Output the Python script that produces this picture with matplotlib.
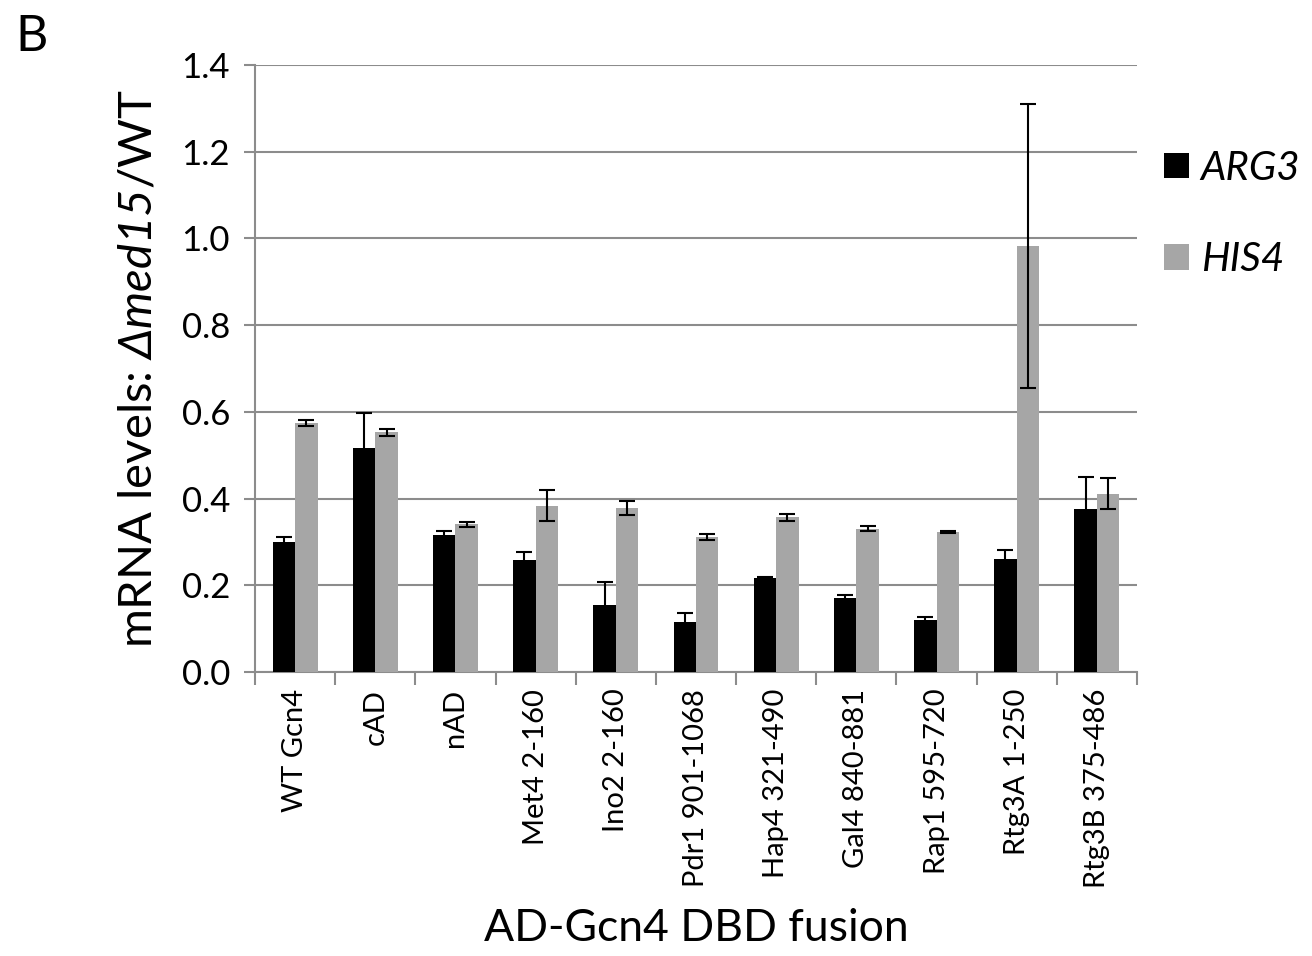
import numpy as np
import matplotlib
matplotlib.use("Agg")
import matplotlib.pyplot as plt

config = {
    "font.family": ['Lato', 'DejaVu Sans'],
    "mathtext.fontset": 'custom',
    "mathtext.rm": 'Lato:italic',
    "mathtext.it": 'Lato:italic',
    "axes.unicode_minus": False,
}
plt.rcParams.update(config)

categories = ["WT Gcn4", "cAD", "nAD", "Met4 2-160", "Ino2 2-160",
              "Pdr1 901-1068", "Hap4 321-490", "Gal4 840-881",
              "Rap1 595-720", "Rtg3A 1-250", "Rtg3B 375-486"]
arg3 = [0.300, 0.516, 0.315, 0.258, 0.155, 0.116, 0.218, 0.170, 0.121, 0.260, 0.377]
arg3_err = [0.011, 0.081, 0.011, 0.019, 0.052, 0.021, 0.002, 0.007, 0.007, 0.021, 0.072]
his4 = [0.574, 0.553, 0.341, 0.384, 0.379, 0.312, 0.357, 0.331, 0.323, 0.982, 0.411]
his4_err = [0.007, 0.008, 0.006, 0.036, 0.016, 0.007, 0.008, 0.005, 0.003, 0.327, 0.036]

x = np.arange(len(categories))
w = 0.28

fig = plt.figure(figsize=(13.12, 9.56), dpi=100)
ax = fig.add_axes([0.1944, 0.297, 0.6722, 0.635])

ebar = dict(ecolor='black', elinewidth=1.5, capsize=6, capthick=1.5)
ax.bar(x - w / 2, arg3, w, color='black', label='ARG3', zorder=3,
       yerr=arg3_err, error_kw=ebar)
ax.bar(x + w / 2, his4, w, color='#a6a6a6', label='HIS4', zorder=3,
       yerr=his4_err, error_kw=ebar)

ax.set_xlim(-0.5, len(categories) - 0.5)
ax.set_ylim(0, 1.4)
ax.set_yticks(np.arange(0, 1.41, 0.2))
ax.set_yticklabels(["%.1f" % v for v in np.arange(0, 1.41, 0.2)], fontsize=25)
ax.yaxis.grid(True, color='#8c8c8c', linewidth=1.5, zorder=0)
ax.set_axisbelow(True)

ax.set_xticks(x)
ax.set_xticklabels(categories, rotation=90, fontsize=21)
ax.tick_params(axis='x', length=0, pad=12)
ax.set_xticks(np.arange(-0.5, len(categories) + 0.5, 1), minor=True)
ax.tick_params(axis='x', which='minor', length=9, width=1.5, color='#8c8c8c')
ax.tick_params(axis='y', length=8, width=1.5, color='#8c8c8c', pad=10)

for s in ['top', 'right']:
    ax.spines[s].set_visible(False)
for s in ['left', 'bottom']:
    ax.spines[s].set_color('#8c8c8c')
    ax.spines[s].set_linewidth(1.5)

ax.set_ylabel(r'mRNA levels: $\Delta med15$/WT', fontsize=34, labelpad=16)
ax.set_xlabel('AD-Gcn4 DBD fusion', fontsize=32, labelpad=14)

leg = ax.legend(loc='upper left', bbox_to_anchor=(0.99, 0.92), frameon=False,
                handlelength=0.6, handleheight=0.6, handletextpad=0.3,
                labelspacing=1.35, prop={'size': 29, 'style': 'italic'})

fig.text(0.012, 0.985, 'B', fontsize=36, va='top')

fig.savefig('out.png', dpi=100)
